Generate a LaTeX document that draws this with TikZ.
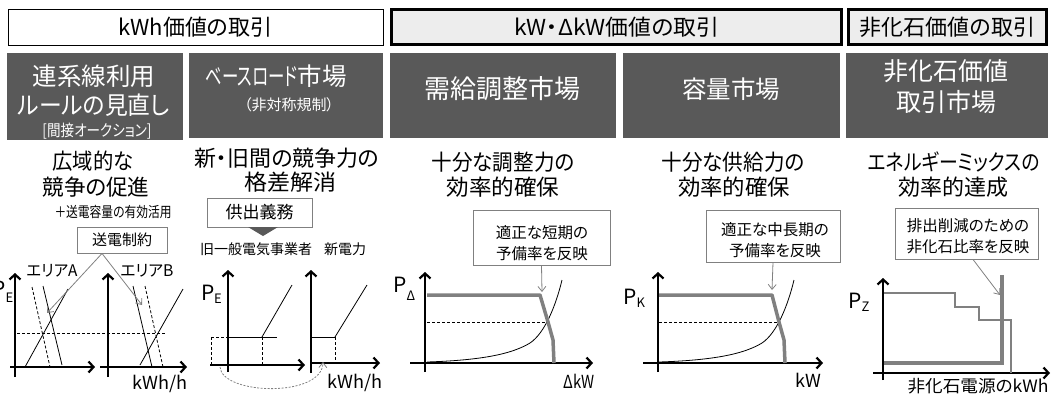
\documentclass[tikz,border=0pt]{standalone}
\usepackage{fontspec}
\usepackage{graphicx}
\setmainfont{Noto Sans CJK JP}[Script=CJK, RawFeature=+palt]
\usetikzlibrary{arrows.meta}
\definecolor{dk}{HTML}{595959}
\definecolor{gr}{HTML}{808080}
\definecolor{lg}{HTML}{EDEDED}
\newcommand{\fsz}[2]{\fontsize{#1}{#2}\selectfont}
\newcommand{\fitw}[2]{\resizebox{#1pt}{\height}{#2}}
\tikzset{
  hdr/.style={draw=black, line width=1pt, fill=white, inner sep=0pt, font=\fsz{22}{24}},
  hdrk/.style={draw=black, line width=3pt, fill=lg, inner sep=0pt, font=\fsz{22}{24}},
  dbox/.style={fill=dk, draw=none, inner sep=0pt},
  wbig/.style={text=white, inner sep=0pt, font=\fsz{24.5}{28}},
  wsmall/.style={text=white, inner sep=0pt, font=\fsz{16}{18}},
  sub/.style={inner sep=0pt, font=\fsz{22}{25}},
  cbox/.style={draw=gr, line width=0.9pt, fill=white, inner sep=0pt},
  ctext/.style={inner sep=0pt, align=center, font=\fsz{15.5}{21}},
  lbl/.style={inner sep=0pt, font=\fsz{16}{19}},
  small/.style={inner sep=0pt, font=\fsz{14}{16}},
  axlbl/.style={inner sep=0pt, font=\fsz{18}{20}},
  pl/.style={inner sep=0pt, font=\fsz{21}{24}, anchor=east},
  ps/.style={inner sep=0pt, font=\fsz{13}{15}, anchor=west},
  axis/.style={line width=2.2pt, -{Straight Barb[length=5pt,width=11pt]}},
  ln/.style={line width=0.8pt},
  dsh/.style={line width=0.8pt, dash pattern=on 3pt off 2pt},
  thk/.style={draw=gr, line width=3.5pt, line join=round},
  stp/.style={draw=gr, line width=1.1pt},
  carrow/.style={draw=gr, line width=0.8pt, -{Straight Barb[length=5pt,width=8pt]}},
  darc/.style={draw=gr, line width=0.8pt, dash pattern=on 2pt off 1.5pt, -{Straight Barb[length=5pt,width=8pt]}}
}
\begin{document}
\begin{tikzpicture}[x=1pt,y=-1pt]
\useasboundingbox (0,0) rectangle (1052,399);

% header boxes
\node[hdr, minimum width=375pt, minimum height=36pt] (h1) at (195.5,27) {kWh価値の取引};
\node[hdrk, minimum width=450pt, minimum height=35pt] (h2) at (616.5,27) {\fitw{205}{kW・ΔkW価値の取引}};
\node[hdrk, minimum width=198pt, minimum height=35pt] (h3) at (947.5,27) {非化石価値の取引};

% dark boxes
\node[dbox, minimum width=176pt, minimum height=87pt] (dA) at (95,96.5) {};
\node[dbox, minimum width=194pt, minimum height=85pt] (dB) at (286,95.5) {};
\node[dbox, minimum width=226pt, minimum height=85pt] (dC) at (503,95.5) {};
\node[dbox, minimum width=217pt, minimum height=85pt] (dD) at (731.5,95.5) {};
\node[dbox, minimum width=202pt, minimum height=85pt] (dE) at (947,95.5) {};

\node[wbig] (tA1) at (94,76) {連系線利用};
\node[wbig] (tA2) at (94,105) {\fitw{152}{ルールの見直し}};
\node[wsmall] (tA3) at (97,131) {\fitw{109}{[間接オークション]}};
\node[wbig] (tB1) at (276,76) {\fitw{92}{ベースロード}市場};
\node[wsmall, font=\fsz{15}{18}] (tB2) at (289,105) {（非対称規制）};
\node[wbig, font=\fsz{26}{28}] (tC) at (502,89) {需給調整市場};
\node[wbig] (tD) at (731,89) {容量市場};
\node[wbig, font=\fsz{25}{28}] (tE1) at (946,71) {非化石価値};
\node[wbig, font=\fsz{25}{28}] (tE2) at (946,102) {取引市場};

% subtitles
\node[sub] (s1a) at (93,161) {\fitw{81}{広域的な}};
\node[sub] (s1b) at (96,187) {\fitw{107}{競争の促進}};
\node[inner sep=0pt, font=\fsz{14.5}{16}] (s1c) at (113,212) {\fitw{117}{＋送電容量の有効活用}};
\node[sub] (s2a) at (287,158) {\fitw{185}{新・旧間の競争力の}};
\node[sub] (s2b) at (290,182) {\fitw{92}{格差解消}};
\node[sub] (s3a) at (503,162) {\fitw{143}{十分な調整力の}};
\node[sub] (s3b) at (503,187) {\fitw{113}{効率的確保}};
\node[sub] (s4a) at (733,162) {\fitw{143}{十分な供給力の}};
\node[sub] (s4b) at (734,187) {\fitw{112}{効率的確保}};
\node[sub] (s5a) at (954,162) {\fitw{172}{エネルギーミックスの}};
\node[sub] (s5b) at (953,187) {\fitw{110}{効率的達成}};

% callout boxes
\node[cbox, minimum width=90pt, minimum height=26pt, font=\fsz{15}{18}] (sb) at (122,240) {送電制約};
\node[cbox, minimum width=105pt, minimum height=29pt, font=\fsz{17}{20}] (kb) at (259.5,212.5) {供出義務};
\fill[dk] (248,227) -- (278,227) -- (263,236) -- cycle;
\node[cbox, minimum width=137pt, minimum height=55pt] (b3) at (541.5,237.5) {};
\node[ctext] (c3) at (542,243.5) {適正な短期の\\予備率を反映};
\node[cbox, minimum width=134pt, minimum height=52pt] (b4) at (773,236) {};
\node[ctext] (c4) at (775,240.5) {適正な中長期の\\予備率を反映};
\node[cbox, minimum width=143pt, minimum height=51pt] (b5) at (966.5,233.5) {};
\node[ctext] (c5) at (968,236) {排出削減のための\\非化石比率を反映};

% labels
\node[lbl] (eA) at (52,271) {\fitw{51}{エリアA}};
\node[lbl] (eB) at (147,271) {\fitw{53}{エリアB}};
\node[small] (l2a) at (256,249) {旧一般電気事業者};
\node[small] (l2b) at (345,249) {新電力};

\node[pl] (p1) at (6,289) {P};
\node[ps] (p1s) at (5.5,298) {E};
\node[pl] (p2) at (215,293) {P};
\node[ps] (p2s) at (214,299) {E};
\node[pl] (p3) at (407,285) {P};
\node[ps] (p3s) at (406.5,296) {Δ};
\node[pl] (p4) at (637,297) {P};
\node[ps] (p4s) at (636.5,303) {K};
\node[pl] (p5) at (862,301) {P};
\node[ps] (p5s) at (861.5,307) {Z};

\node[axlbl] (x1) at (160,384) {\fitw{55}{kWh/h}};
\node[axlbl] (x2) at (355,383) {\fitw{55}{kWh/h}};
\node[axlbl] (x3) at (579,381) {\fitw{31}{ΔkW}};
\node[axlbl] (x4) at (808,380) {kW};
\node[inner sep=0pt, font=\fsz{17}{20}] (x5) at (978,386) {\fitw{141}{非化石電源のkWh}};

% panel 1 charts
\draw[axis] (15,377) -- (15,273);
\draw[axis] (10,367) -- (95,367);
\draw[axis] (108,377) -- (108,273);
\draw[axis] (100,367) -- (187,367);
\draw[dsh] (17,333) -- (165,333);
\draw[ln] (25,367) -- (68,289);
\draw[dsh] (32,287) -- (50,367);
\draw[ln] (43,286) -- (62,365);
\draw[ln] (133,286) -- (152,367);
\draw[dsh] (145,286) -- (163,367);
\draw[ln] (140,365) -- (183,289);
\coordinate (aA) at (47,313);
\coordinate (aB) at (142,305);
\draw[carrow] ([xshift=-20pt]sb.south) -- (aA);
\draw[carrow] ([xshift=-20pt]sb.south) -- (aB);

% panel 2 charts
\draw[axis] (228,372) -- (228,270);
\draw[axis] (210,365) -- (305,365);
\draw[dsh] (211,337) -- (228,337);
\draw[dsh] (211,337) -- (211,365);
\draw[ln] (228,337) -- (277,337);
\draw[dsh] (262,337) -- (262,365);
\draw[ln] (262,337) -- (292,285);
\draw[axis] (311,373) -- (311,270);
\draw[axis] (311,363) -- (380,363);
\draw[ln] (311,337) -- (335,337);
\draw[dsh] (335,337) -- (335,363);
\draw[ln] (335,337) -- (367,285);
\coordinate (arcS) at (220,367);
\coordinate (arcE) at (323,362);
\draw[darc] (arcS) .. controls (222,395) and (322,398) .. (arcE);

% panel 3 chart
\draw[axis] (425,372) -- (425,272);
\draw[axis] (410,363) -- (593,363);
\draw[dsh] (427,322) -- (548,322);
\draw[ln] (427,362) .. controls (490,360) and (515,352) .. (530,343) .. controls (545,333) and (556,305) .. (562,280);
\draw[thk] (427,295) -- (540,295) -- (548,322) -- (553,340) -- (554,363);
\coordinate (a3) at (542,292);
\draw[carrow] (b3.south) -- (a3);

% panel 4 chart
\draw[axis] (658,372) -- (658,272);
\draw[axis] (643,363) -- (823,363);
\draw[dsh] (659,322) -- (779,322);
\draw[ln] (659,362) .. controls (722,360) and (747,352) .. (762,343) .. controls (777,333) and (788,305) .. (794,280);
\draw[thk] (659,295) -- (772,295) -- (779,322) -- (784,340) -- (785,363);
\coordinate (a4) at (772,290);
\draw[carrow] (b4.south) -- (a4);

% panel 5 chart
\draw[axis] (883,380) -- (883,278);
\draw[axis] (873,373) -- (1050,373);
\draw[stp] (884,293) -- (955,293) -- (955,307) -- (979,307) -- (979,320) -- (1011,320) -- (1011,373);
\draw[thk, line join=miter] (1002,275) -- (1002,363) -- (884,363);
\coordinate (a5) at (1000,295);
\draw[carrow] ([xshift=6.5pt]b5.south) -- (a5);
\end{tikzpicture}
\end{document}
